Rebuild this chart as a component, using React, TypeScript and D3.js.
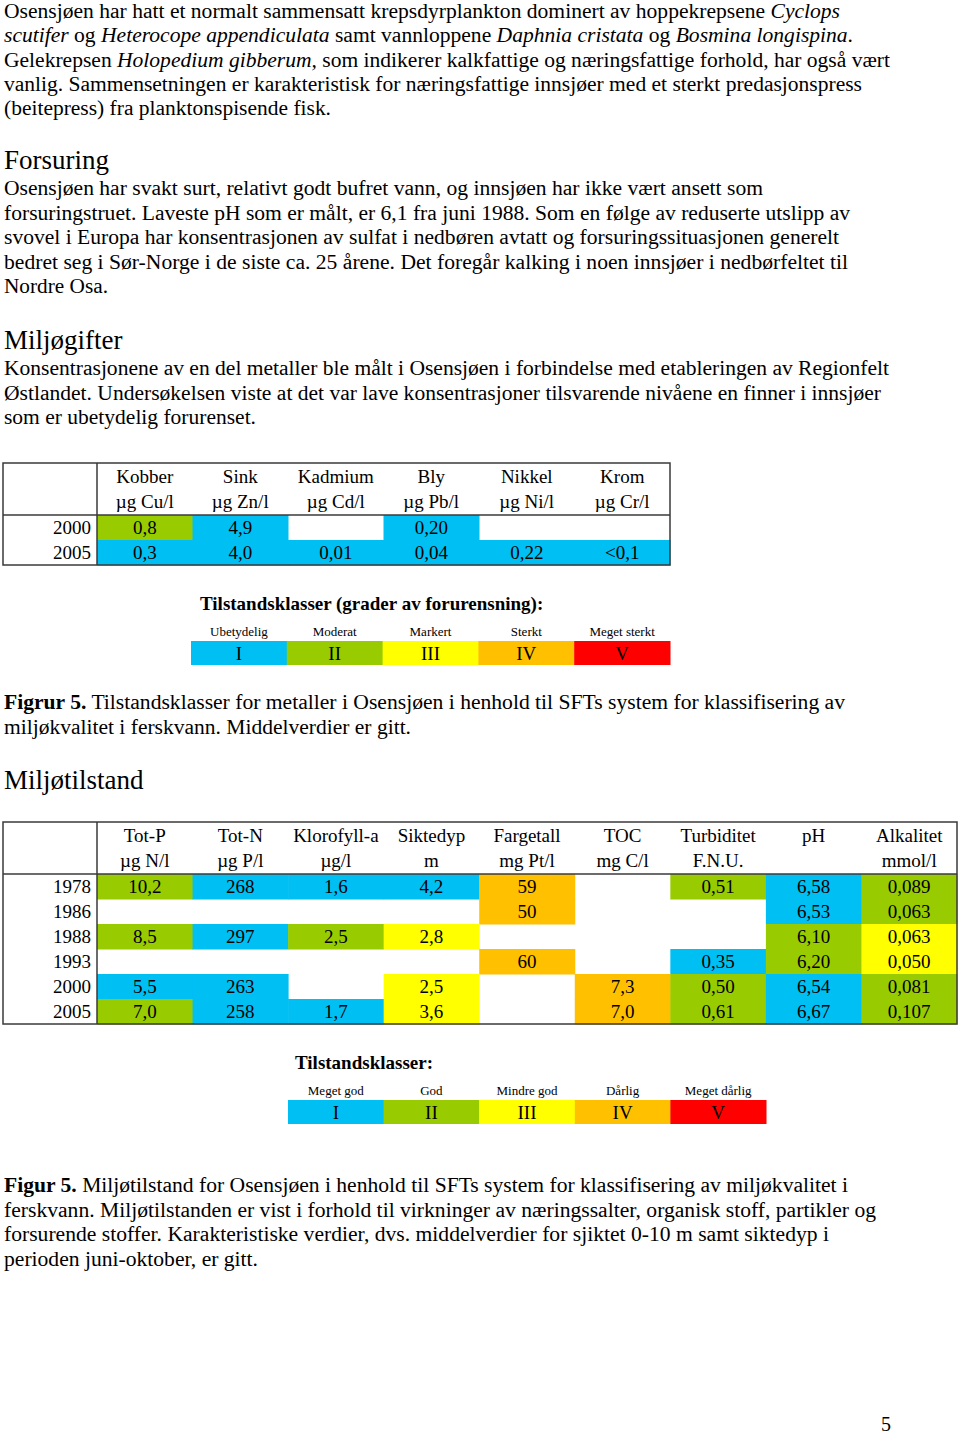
import React from "react";
import * as d3 from "d3";

// class colours (I..V)
const classColors = ["#00BFF3", "#99CC00", "#FFFF00", "#FFC000", "#FF0000"];
const romans = ["I", "II", "III", "IV", "V"];

// metals table
const metalNames = ["Kobber", "Sink", "Kadmium", "Bly", "Nikkel", "Krom"];
const metalUnits = ["µg Cu/l", "µg Zn/l", "µg Cd/l", "µg Pb/l", "µg Ni/l", "µg Cr/l"];
const metalYears = ["2000", "2005"];
const metalValues = [
  ["0,8", "4,9", "", "0,20", "", ""],
  ["0,3", "4,0", "0,01", "0,04", "0,22", "<0,1"],
];
// 0 = no colour, 1..5 = class
const metalClass = [
  [2, 1, 0, 1, 0, 0],
  [1, 1, 1, 1, 1, 1],
];
const metalLegend = ["Ubetydelig", "Moderat", "Markert", "Sterkt", "Meget sterkt"];

// environmental state table
const envNames = ["Tot-P", "Tot-N", "Klorofyll-a", "Siktedyp", "Fargetall", "TOC", "Turbiditet", "pH", "Alkalitet"];
const envUnits = ["µg N/l", "µg P/l", "µg/l", "m", "mg Pt/l", "mg C/l", "F.N.U.", "", "mmol/l"];
const envYears = ["1978", "1986", "1988", "1993", "2000", "2005"];
const envValues = [
  ["10,2", "268", "1,6", "4,2", "59", "", "0,51", "6,58", "0,089"],
  ["", "", "", "", "50", "", "", "6,53", "0,063"],
  ["8,5", "297", "2,5", "2,8", "", "", "", "6,10", "0,063"],
  ["", "", "", "", "60", "", "0,35", "6,20", "0,050"],
  ["5,5", "263", "", "2,5", "", "7,3", "0,50", "6,54", "0,081"],
  ["7,0", "258", "1,7", "3,6", "", "7,0", "0,61", "6,67", "0,107"],
];
const envClass = [
  [2, 1, 1, 1, 4, 0, 2, 1, 2],
  [0, 0, 0, 0, 4, 0, 0, 1, 2],
  [2, 1, 2, 3, 0, 0, 0, 2, 3],
  [0, 0, 0, 0, 4, 0, 1, 2, 3],
  [1, 1, 0, 3, 0, 4, 2, 1, 2],
  [2, 1, 1, 3, 0, 4, 2, 1, 2],
];
const envLegend = ["Meget god", "God", "Mindre god", "Dårlig", "Meget dårlig"];

// running text; _x_ = italic, *x* = bold
const para1 = [
  "Osensjøen har hatt et normalt sammensatt krepsdyrplankton dominert av hoppekrepsene _Cyclops_",
  "_scutifer_ og _Heterocope appendiculata_ samt vannloppene _Daphnia cristata_ og _Bosmina longispina_.",
  "Gelekrepsen _Holopedium gibberum,_ som indikerer kalkfattige og næringsfattige forhold, har også vært",
  "vanlig. Sammensetningen er karakteristisk for næringsfattige innsjøer med et sterkt predasjonspress",
  "(beitepress) fra planktonspisende fisk.",
];
const para2 = [
  "Osensjøen har svakt surt, relativt godt bufret vann, og innsjøen har ikke vært ansett som",
  "forsuringstruet. Laveste pH som er målt, er 6,1 fra juni 1988. Som en følge av reduserte utslipp av",
  "svovel i Europa har konsentrasjonen av sulfat i nedbøren avtatt og forsuringssituasjonen generelt",
  "bedret seg i Sør-Norge i de siste ca. 25 årene. Det foregår kalking i noen innsjøer i nedbørfeltet til",
  "Nordre Osa.",
];
const para3 = [
  "Konsentrasjonene av en del metaller ble målt i Osensjøen i forbindelse med etableringen av Regionfelt",
  "Østlandet. Undersøkelsen viste at det var lave konsentrasjoner tilsvarende nivåene en finner i innsjøer",
  "som er ubetydelig forurenset.",
];
const caption1 = [
  "*Figrur 5.* Tilstandsklasser for metaller i Osensjøen i henhold til SFTs system for klassifisering av",
  "miljøkvalitet i ferskvann. Middelverdier er gitt.",
];
const caption2 = [
  "*Figur 5.* Miljøtilstand for Osensjøen i henhold til SFTs system for klassifisering av miljøkvalitet i",
  "ferskvann. Miljøtilstanden er vist i forhold til virkninger av næringssalter, organisk stoff, partikler og",
  "forsurende stoffer. Karakteristiske verdier, dvs. middelverdier for sjiktet 0-10 m samt siktedyp i",
  "perioden juni-oktober, er gitt.",
];

const FONT = "'Liberation Serif', 'Times New Roman', serif";

const parse = (line: string) => {
  const parts: { t: string; i?: boolean; b?: boolean }[] = [];
  const re = /(_[^_]+_|\*[^*]+\*)/g;
  let last = 0;
  let m;
  while ((m = re.exec(line))) {
    if (m.index > last) parts.push({ t: line.slice(last, m.index) });
    const s = m[0];
    parts.push({ t: s.slice(1, -1), i: s[0] === "_", b: s[0] === "*" });
    last = m.index + s.length;
  }
  if (last < line.length) parts.push({ t: line.slice(last) });
  return parts;
};

const Para = ({ lines, y0, ends, step = 24.6 }) => (
  <g>
    {lines.map((l, i) => (
      <text
        key={i}
        x={4}
        y={y0 + i * step}
        fontSize={20}
        textLength={ends[i] - 4}
        lengthAdjust="spacingAndGlyphs"
        style={{ whiteSpace: "pre" }}
      >
        {parse(l).map((p, j) => (
          <tspan key={j} fontStyle={p.i ? "italic" : "normal"} fontWeight={p.b ? "bold" : "normal"}>
            {p.t}
          </tspan>
        ))}
      </text>
    ))}
  </g>
);

const Table = ({ top, left, yearW, right, names, units, years, values, classes }) => {
  const headH = 52;
  const rowH = 25;
  const x = d3.scaleBand().domain(d3.range(names.length)).range([left + yearW, right]);
  const y = d3.scaleBand().domain(d3.range(years.length)).range([top + headH, top + headH + rowH * years.length]);
  const bottom = top + headH + rowH * years.length;
  return (
    <g fontSize={19}>
      {values.map((row, r) =>
        row.map((v, c) =>
          classes[r][c] ? (
            <rect key={`${r}-${c}`} x={x(c)} y={y(r)} width={x.bandwidth() + 0.5} height={y.bandwidth() + 0.5} fill={classColors[classes[r][c] - 1]} />
          ) : null
        )
      )}
      {names.map((n, c) => (
        <g key={n}>
          <text x={x(c) + x.bandwidth() / 2} y={top + 20} textAnchor="middle">{n}</text>
          <text x={x(c) + x.bandwidth() / 2} y={top + 45} textAnchor="middle">{units[c]}</text>
        </g>
      ))}
      {years.map((yr, r) => (
        <text key={yr} x={left + yearW - 6} y={y(r) + 19} textAnchor="end">{yr}</text>
      ))}
      {values.map((row, r) =>
        row.map((v, c) =>
          v ? (
            <text key={`t${r}-${c}`} x={x(c) + x.bandwidth() / 2} y={y(r) + 19} textAnchor="middle">{v}</text>
          ) : null
        )
      )}
      <g stroke="#3a3a3a" strokeWidth={1.5} fill="none">
        <rect x={left} y={top} width={right - left} height={bottom - top} />
        <line x1={left + yearW} x2={left + yearW} y1={top} y2={bottom} />
        <line x1={left} x2={right} y1={top + headH} y2={top + headH} />
      </g>
    </g>
  );
};

const Legend = ({ title, titleX, top, left, right, labels }) => {
  const x = d3.scaleBand().domain(d3.range(labels.length)).range([left, right]);
  return (
    <g>
      <text x={titleX} y={top} fontSize={19} fontWeight="bold">{title}</text>
      {labels.map((l, i) => (
        <g key={l}>
          <text x={x(i) + x.bandwidth() / 2} y={top + 26} fontSize={13} textAnchor="middle">{l}</text>
          <rect x={x(i)} y={top + 31} width={x.bandwidth() + 0.5} height={24} fill={classColors[i]} />
          <text x={x(i) + x.bandwidth() / 2} y={top + 50} fontSize={19} textAnchor="middle">{romans[i]}</text>
        </g>
      ))}
    </g>
  );
};

export default function App() {
  return (
    <svg
      width={960}
      height={1434}
      style={{ position: "absolute", left: 0, top: 0, background: "#fff" }}
      fontFamily={FONT}
      fill="#000"
    >
      <Para lines={para1} y0={18} ends={[840, 853, 890, 862, 331]} step={24.3} />
      <text x={4} y={169} fontSize={27}>Forsuring</text>
      <Para lines={para2} y0={195} ends={[763, 850, 839, 848, 108]} />
      <text x={4} y={349} fontSize={27}>Miljøgifter</text>
      <Para lines={para3} y0={375} ends={[889, 881, 256]} />

      <Table
        top={463}
        left={3}
        yearW={94}
        right={670}
        names={metalNames}
        units={metalUnits}
        years={metalYears}
        values={metalValues}
        classes={metalClass}
      />
      <Legend title="Tilstandsklasser (grader av forurensning):" titleX={200} top={610} left={191} right={670} labels={metalLegend} />

      <Para lines={caption1} y0={709} ends={[845, 411]} />
      <text x={4} y={789} fontSize={27}>Miljøtilstand</text>

      <Table
        top={822}
        left={3}
        yearW={94}
        right={957}
        names={envNames}
        units={envUnits}
        years={envYears}
        values={envValues}
        classes={envClass}
      />
      <Legend title="Tilstandsklasser:" titleX={295} top={1069} left={288} right={766} labels={envLegend} />

      <Para lines={caption2} y0={1192} ends={[848, 876, 829, 258]} />

      <text x={886} y={1431} fontSize={20} textAnchor="middle">5</text>
    </svg>
  );
}
